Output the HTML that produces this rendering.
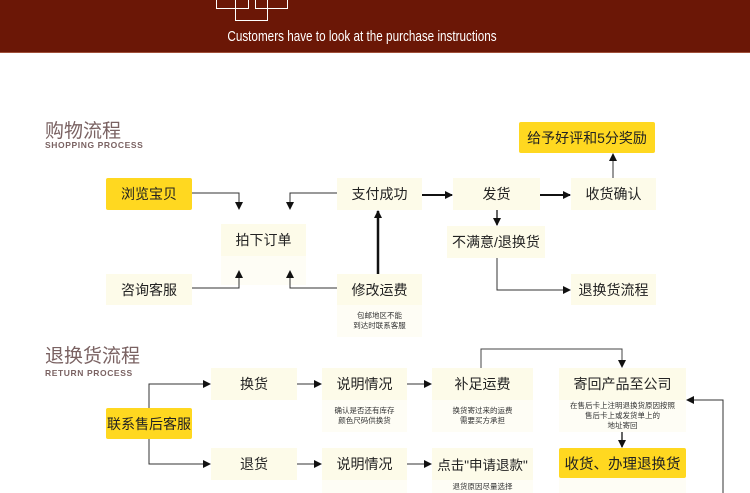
<!DOCTYPE html>
<html><head><meta charset="utf-8"><style>
body{margin:0;width:750px;height:493px;overflow:hidden;background:#fff;position:relative;font-family:"Liberation Sans","Noto Sans CJK SC",sans-serif}
.hd{position:absolute;left:0;top:0;width:750px;height:52px;background:#6b1706;border-bottom:1px solid #a0503a}
.b{position:absolute;background:#fdfbe9;display:flex;align-items:center;justify-content:center;font-size:14px;color:#222;white-space:nowrap}
.y{background:#ffd820;border-radius:2px}
.n{position:absolute;background:#fefdf5;font-size:7.5px;color:#333;text-align:center;line-height:10px;display:flex;align-items:center;justify-content:center;flex-direction:column}
.t{position:absolute;color:#7a6262;font-size:19px;line-height:19px}
.s{position:absolute;color:#7a6262;font-size:8.5px;line-height:9px;letter-spacing:0.6px;font-weight:bold}
svg{position:absolute;left:0;top:0}
</style></head><body>
<div class="hd"></div>
<div style="position:absolute;left:216px;top:-1px;width:31px;height:9px;border:1px solid #fff;border-top:none"></div>
<div style="position:absolute;left:255px;top:-1px;width:31px;height:9px;border:1px solid #fff;border-top:none"></div>
<div style="position:absolute;left:235px;top:-1px;width:31px;height:21px;border:1px solid #fff;border-top:none"></div>
<div style="position:absolute;left:0;width:724px;text-align:center;top:28px;color:#fff;font-size:15px;transform:scaleX(0.78);transform-origin:362px 0;white-space:nowrap">Customers have to look at the purchase instructions</div>

<div class="t" style="left:45px;top:122px">购物流程</div>
<div class="s" style="left:45px;top:141px">SHOPPING PROCESS</div>
<div class="t" style="left:45px;top:347px">退换货流程</div>
<div class="s" style="left:45px;top:369px">RETURN PROCESS</div>

<div class="b y" style="left:106px;top:178px;width:86px;height:32px">浏览宝贝</div>
<div class="b" style="left:221px;top:224px;width:85px;height:32px">拍下订单</div>
<div class="n" style="left:221px;top:256px;width:85px;height:29px"></div>
<div class="b" style="left:106px;top:274px;width:86px;height:31px">咨询客服</div>
<div class="b" style="left:337px;top:178px;width:85px;height:32px">支付成功</div>
<div class="b" style="left:337px;top:274px;width:85px;height:31px">修改运费</div>
<div class="n" style="left:337px;top:305px;width:85px;height:32px"><div>包邮地区不能</div><div>到达时联系客服</div></div>
<div class="b" style="left:453px;top:178px;width:87px;height:32px">发货</div>
<div class="b" style="left:571px;top:178px;width:85px;height:32px">收货确认</div>
<div class="b y" style="left:519px;top:122px;width:136px;height:31px">给予好评和5分奖励</div>
<div class="b" style="left:447px;top:226px;width:98px;height:32px">不满意/退换货</div>
<div class="b" style="left:571px;top:274px;width:85px;height:31px">退换货流程</div>

<div class="b y" style="left:106px;top:408px;width:86px;height:31px">联系售后客服</div>
<div class="b" style="left:211px;top:368px;width:86px;height:32px">换货</div>
<div class="b" style="left:211px;top:448px;width:86px;height:32px">退货</div>
<div class="b" style="left:322px;top:368px;width:85px;height:32px">说明情况</div>
<div class="n" style="left:322px;top:400px;width:85px;height:32px"><div>确认是否还有库存</div><div>颜色尺码供换货</div></div>
<div class="b" style="left:322px;top:448px;width:85px;height:32px">说明情况</div>
<div class="n" style="left:322px;top:480px;width:85px;height:13px"><div>&nbsp;</div></div>
<div class="b" style="left:432px;top:368px;width:101px;height:32px">补足运费</div>
<div class="n" style="left:432px;top:400px;width:101px;height:32px"><div>换货寄过来的运费</div><div>需要买方承担</div></div>
<div class="b" style="left:432px;top:448px;width:101px;height:32px;font-size:13.5px">点击"申请退款"</div>
<div class="n" style="left:432px;top:480px;width:101px;height:13px;justify-content:flex-start;padding-top:2px;box-sizing:border-box"><div>退货原因尽量选择</div></div>
<div class="b" style="left:559px;top:368px;width:127px;height:32px">寄回产品至公司</div>
<div class="n" style="left:559px;top:400px;width:127px;height:32px"><div>在售后卡上注明退换货原因按照</div><div>售后卡上或发货单上的</div><div>地址寄回</div></div>
<div class="b y" style="left:559px;top:448px;width:127px;height:30px;font-size:14.5px">收货、办理退换货</div>
<div class="n" style="left:559px;top:478px;width:127px;height:15px"></div>

<svg width="750" height="493">
<defs><marker id="a" markerWidth="8" markerHeight="8" refX="7" refY="4" orient="auto" markerUnits="userSpaceOnUse"><path d="M0,0L8,4L0,8z" fill="#111"/></marker></defs>
<g stroke="#333" stroke-width="1" fill="none" marker-end="url(#a)">
<path d="M192,193H239V209"/>
<path d="M337,193H290V209"/>
<path d="M192,288H239V271"/>
<path d="M337,288H290V271"/>
<path d="M378,274V211" stroke-width="2.5" stroke="#111"/>
<path d="M422,195H452" stroke-width="2" stroke="#111"/>
<path d="M540,195H570" stroke-width="2" stroke="#111"/>
<path d="M613,178V154"/>
<path d="M497,210V225" stroke-width="1.5"/>
<path d="M497,258V290H570"/>
<path d="M149,408V384H210"/>
<path d="M149,439V464H210"/>
<path d="M297,384H321"/>
<path d="M297,464H321"/>
<path d="M407,384H431"/>
<path d="M407,464H431"/>
<path d="M481,368V349H622V367" stroke="#444"/>
<path d="M622,432V447" stroke-width="1.5"/>
<path d="M723,493V400H687"/>
</g>
</svg>
</body></html>
